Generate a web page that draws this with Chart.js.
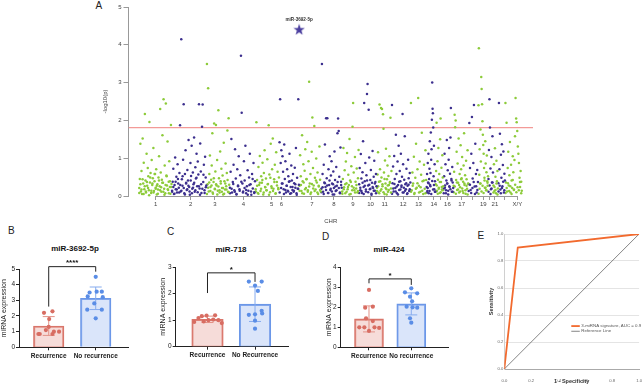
<!DOCTYPE html>
<html>
<head>
<meta charset="utf-8">
<script src="https://cdn.jsdelivr.net/npm/chart.js@4.4.0/dist/chart.umd.min.js"></script>
<style>
body { margin: 0; width: 643px; height: 385px; position: relative; background: #fff; overflow: hidden; }
canvas { position: absolute; }
.lbl { position: absolute; font-family: Arial, "Liberation Sans", sans-serif; color: #222; line-height: 1; white-space: nowrap; }
.ttl { position: absolute; font-family: Arial, "Liberation Sans", sans-serif; font-weight: bold; font-size: 8px; color: #111; transform: translate(-50%, -50%); white-space: nowrap; }
</style>
</head>
<body>

<div class="lbl" style="left:95.5px;top:0.5px;font-size:10px">A</div>
<div class="lbl" style="left:8px;top:226px;font-size:10px">B</div>
<div class="lbl" style="left:167px;top:226.5px;font-size:10px">C</div>
<div class="lbl" style="left:322px;top:231.5px;font-size:10px">D</div>
<div class="lbl" style="left:477.5px;top:231px;font-size:10px">E</div>

<div class="ttl" id="titleB" style="left:75px;top:248px"></div>
<div class="ttl" id="titleC" style="left:231px;top:248.5px"></div>
<div class="ttl" id="titleD" style="left:389px;top:248.5px"></div>

<canvas id="manhattan" width="452" height="232" style="left:88px;top:0px"></canvas>
<canvas id="barB" width="135" height="145" style="left:0px;top:240px"></canvas>
<canvas id="barC" width="135" height="145" style="left:159px;top:240px"></canvas>
<canvas id="barD" width="130" height="145" style="left:325px;top:240px"></canvas>
<canvas id="roc" width="155" height="160" style="left:488px;top:225px"></canvas>

<script>
// ===============================
// Data
// ===============================

// Manhattan plot: chromosomes and -log10(p) per miRNA
const chromNames = ["1","2","3","4","5","6","7","8","9","10","11","12","13","14","15","16","17","18","19","20","21","22","X/Y"];
const chromTickText = ["1","2","3","4","5","6","7","8","9","10","11","12","13","14","","16","17","","19","","21","","X/Y"];
const chromWidth = [33,35,23,26,24,20,22,21,17,18,15,19,16,9,8,10,15,10,10,5,5,7,17];
const chromTick = [16.7,52,76.3,105,133.3,143.3,173.7,196,215,232.7,247,265.5,281,296.3,303,310,324.3,335,346,352,357.7,367,380.3];
const yTicksA = [0,1,2,3,4,5];
const threshold = 1.81;
const topHitName = "miR-3692-5p";
const topHitPos = 161;
const topHitValue = 4.41;

// scattered miRNAs, chromosome by chromosome
const c1 = [0.21,0.45,1.38,0.12,0.66,0.05,1.52,0.33,0.88,0.18,2.17,0.41,0.09,1.12,0.27,0.74,0.52,0.15,1.96,0.36,0.61,0.08,0.95,0.29,0.47,1.27,0.13,0.39,0.58,0.22,0.71,0.04,0.31,0.17,0.49,1.05,0.26,2.30,0.62,0.11,0.43,1.61,0.35,2.56,0.19,0.81,0.07,2.45,0.54,0.28,1.44,0.16,0.38,0.92,0.24,0.06,1.88,0.32];
const c2 = [0.14,0.38,0.72,0.05,0.29,1.02,0.18,0.51,0.09,0.84,0.33,0.22,0.61,1.87,0.12,4.15,0.44,0.27,0.96,2.43,0.07,0.58,1.21,0.35,0.16,0.69,0.41,1.48,0.24,0.03,0.87,0.53,1.33,0.19,0.62,0.31,1.55,0.11,0.76,0.46,1.12,0.26,0.91,0.57,2.43,0.20,1.39,0.65,0.08,1.83,2.42,0.37,0.83,0.15,1.04,0.49,0.28];
const c3 = [3.49,0.31,2.85,0.12,0.58,1.07,0.24,0.43,0.81,1.66,0.06,0.37,1.92,0.19,0.65,1.88,0.28,0.95,0.14,2.27,0.47,0.09,1.18,0.33,0.72,0.21,0.54,0.04,1.41,0.39,0.17,0.86,0.26,0.61,1.73,0.11,2.06,0.30];
const c4 = [0.22,0.64,1.51,0.09,0.37,0.83,0.15,1.24,0.46,0.05,0.71,0.28,1.05,0.18,0.55,3.71,2.20,0.33,0.12,0.92,0.41,1.33,0.07,0.26,0.68,0.14,0.49,1.12,0.31,0.03,0.58,0.20,0.87,0.10,0.39];
const c5 = [0.18,1.95,0.42,0.08,0.77,0.29,1.06,0.13,0.52,0.35,0.88,0.04,0.61,1.21,0.23,0.46,0.15,0.97,0.32,1.87,0.57,0.10,1.38,0.26,0.71,1.52,0.19,0.44,0.83,0.06,1.16,0.37,0.64,0.21,0.49];
const c6 = [1.42,2.56,0.87,1.21,0.33,1.05,0.64,0.18,1.36,0.45,0.92,0.09,0.27,0.71,0.14,0.52,0.38,1.12,0.06,0.24,0.81,0.41,0.16,0.58,0.11,0.34,0.75,0.22,1.27,0.07,0.48,0.19,2.56,0.30];
const c7 = [0.27,1.08,0.52,0.13,1.61,0.39,0.84,0.06,0.67,1.24,0.21,0.45,1.43,0.15,0.92,3.02,0.33,0.58,0.09,1.17,2.08,0.74,0.28,1.85,0.48,0.17,0.99,0.36,0.62,0.05,0.25,1.31,0.43,0.12];
const c8 = [0.19,3.49,0.58,0.11,0.83,0.36,1.36,0.24,2.06,0.47,2.06,0.08,0.71,0.29,1.05,0.16,0.54,0.92,0.33,0.04,0.65,0.21,1.18,0.42,0.13,0.77,0.27,1.66,2.05,1.72,0.51,0.09,1.28,0.38,0.22];
const c9 = [0.12,0.45,1.27,0.23,0.68,0.07,0.91,0.34,1.14,0.18,0.56,0.29,1.51,0.41,0.05,0.79,0.26,1.83,2.46,0.62,0.15,1.03,0.38,0.20,0.73,0.09,0.47,1.22];
const c10 = [0.31,0.74,0.15,1.11,0.46,0.08,0.63,1.45,0.24,2.46,0.39,0.87,0.12,0.55,2.70,2.96,0.28,2.28,1.02,0.18,0.42,0.69,0.06,0.35,1.19,0.21,0.51,0.93,0.14,0.37,0.58,0.26];
const c11 = [0.22,0.57,1.16,0.09,0.38,2.42,0.71,0.14,2.33,0.49,2.30,0.26,2.16,1.78,0.62,0.05,0.94,0.33,1.25,0.18,0.44,0.81,0.11,0.53,0.29,1.05,0.37,2.07,0.20,0.66];
const c12 = [2.41,0.34,0.78,0.12,1.06,0.45,0.21,1.62,0.58,0.07,0.91,0.29,1.33,0.16,0.66,0.39,1.12,0.24,0.51,2.17,0.84,0.09,0.43,1.58,0.31,0.18,0.72,0.05,0.27,0.96,0.47,0.13,0.61,0.36];
const c13 = [2.46,0.15,0.62,0.33,1.04,0.08,0.48,1.38,0.22,0.71,2.59,0.27,0.91,0.11,0.56,1.67,0.39,0.05,0.83,0.19,1.21,0.42];
const c14 = [0.24,0.58,0.13,0.87,0.36,1.12,0.07,0.45,0.72,1.45,0.29,0.61,1.68,0.96,1.24,2.02,3.00,2.31,2.19,1.81,0.52,1.33,0.18,0.84,0.39,0.11];
const c15 = [0.31,0.66,1.94,0.14,0.92,0.43,1.27,0.22,0.58,0.08,1.50,2.05,0.37,0.75,0.17,1.08,0.49,0.26];
const c16 = [0.19,0.52,1.12,0.28,0.84,0.07,0.41,1.48,0.33,0.68,0.14,0.96,1.27,0.24,0.59,1.55,2.33,0.45,0.11,0.77,0.36,0.21];
const c17 = [0.27,0.64,2.15,1.82,2.00,0.42,1.17,0.16,0.86,0.35,1.52,0.09,0.58,0.23,1.34,0.71,0.47,1.03,0.13,0.38,0.81,1.66,0.29,0.55,0.06,0.93,0.44,0.19,1.21,0.33];
const c18 = [0.32,1.93,0.74,0.16,1.12,2.09,0.46,0.87,2.41,0.25,1.38,0.58,0.09,0.69,0.37];
const c19 = [2.40,3.91,0.56,1.24,0.33,1.76,0.91,3.15,2.83,2.43,1.98,1.62,1.35,1.12,0.74,0.48,0.22,1.45,0.86,0.15,0.63,1.07,0.39,0.27,0.52];
const c20 = [0.45,1.22,2.56,1.81,0.73,0.18,1.03,0.36,1.58,0.62];
const c21 = [0.28,0.84,0.13,1.26,0.51,0.07,0.93,0.39,0.66,0.20];
const c22 = [0.34,2.46,0.71,1.65,0.17,1.09,0.48,1.37,0.26,0.82,1.18,0.09,0.59,0.41];
const cXY = [2.46,0.36,1.94,0.12,0.74,1.17,0.28,0.55,1.43,0.09,0.83,0.41,0.21,1.05,0.63,0.16,0.95,1.58,2.59,2.05,1.95,1.72,1.31,1.12,0.87,0.48,0.24,0.66,0.38,0.14];
const chromValues = [c1,c2,c3,c4,c5,c6,c7,c8,c9,c10,c11,c12,c13,c14,c15,c16,c17,c18,c19,c20,c21,c22,cXY];

// the dense low band near the x axis
const b1 = [0.08,0.31,0.17,0.44,0.05,0.26,0.12,0.37,0.21,0.02,0.49,0.14,0.33,0.09,0.58,0.19,0.27,0.06,0.41,0.15,0.23,0.35,0.11,0.03,0.29,0.52,0.18,0.07,0.39,0.24];
const b2 = [0.11,0.24,0.06,0.38,0.17,0.45,0.09,0.29,0.14,0.52,0.21,0.04,0.33,0.18,0.27,0.12,0.41,0.07,0.22,0.35,0.15,0.48,0.10,0.26,0.03,0.31,0.19,0.56,0.08,0.23];
const b3 = [0.05,0.22,0.36,0.13,0.28,0.09,0.47,0.18,0.31,0.04,0.25,0.15,0.39,0.11,0.21,0.06,0.33,0.17,0.42,0.10];
const b4 = [0.07,0.19,0.32,0.11,0.04,0.26,0.14,0.38,0.09,0.21,0.16,0.03,0.29,0.12,0.45,0.08];
const b5 = [0.12,0.27,0.06,0.35,0.19,0.42,0.09,0.24,0.15,0.31,0.03,0.48,0.21,0.13,0.37,0.07,0.28,0.18];
const b6 = [0.09,0.21,0.33,0.05,0.16,0.27,0.12,0.39,0.07,0.24,0.14,0.31,0.03,0.19];
const b7 = [0.14,0.29,0.07,0.36,0.18,0.44,0.11,0.25,0.05,0.32,0.20,0.13,0.41,0.09,0.27,0.16];
const b8 = [0.10,0.23,0.05,0.34,0.16,0.28,0.08,0.41,0.19,0.12,0.31,0.04,0.25,0.15,0.37,0.21,0.07,0.29];
const b9 = [0.06,0.18,0.31,0.11,0.24,0.04,0.37,0.15,0.22,0.09,0.29,0.13];
const b10 = [0.08,0.22,0.13,0.35,0.05,0.27,0.17,0.41,0.10,0.30,0.19,0.03,0.24,0.14,0.33,0.07];
const b11 = [0.13,0.26,0.07,0.39,0.18,0.31,0.10,0.45,0.21,0.04,0.28,0.16,0.35,0.09];
const b12 = [0.06,0.20,0.32,0.12,0.25,0.04,0.38,0.17,0.28,0.09,0.22,0.14,0.34,0.07,0.30,0.18];
const b13 = [0.11,0.27,0.05,0.19,0.34,0.09,0.23,0.14,0.41,0.07];
const b14 = [0.09,0.21,0.34,0.13,0.26,0.05,0.40,0.17,0.29,0.11];
const b15 = [0.12,0.28,0.06,0.19,0.37,0.10,0.24,0.15];
const b16 = [0.07,0.22,0.15,0.33,0.04,0.26,0.18,0.41,0.11];
const b17 = [0.10,0.25,0.06,0.36,0.17,0.29,0.12,0.44,0.20,0.08,0.33,0.15,0.27,0.04];
const b18 = [0.13,0.30,0.08,0.21,0.37,0.05,0.26,0.16];
const b19 = [0.06,0.19,0.33,0.12,0.27,0.08,0.41,0.22,0.15,0.35];
const b20 = [0.11,0.28,0.05,0.20,0.36];
const b21 = [0.09,0.24,0.16,0.33,0.04];
const b22 = [0.12,0.27,0.07,0.21,0.38,0.15];
const bXY = [0.08,0.21,0.34,0.13,0.26,0.05,0.42,0.17,0.30,0.10,0.23,0.15,0.37,0.07];
const chromBulk = [b1,b2,b3,b4,b5,b6,b7,b8,b9,b10,b11,b12,b13,b14,b15,b16,b17,b18,b19,b20,b21,b22,bXY];

// Bar panels: miRNA expression per patient
const groupsB = ["Recurrence", "No recurrence"];
const groupsC = ["Recurrence", "No Recurrence"];
const groupsD = ["Recurrence", "No recurrence"];

const titleB = "miR-3692-5p";
const recB = [2.2,2.3,1.8,1.3,1.1,0.85,1.0,1.0,0.85,0.85];
const noRecB = [4.5,3.55,3.55,3.5,3.25,3.2,2.8,2.4,2.4,1.85];
const meanB = [1.36, 3.13];
const sdB = [0.6, 0.72];
const sigB = "****";
const yTicksB = [0,1,2,3,4,5];

const titleC = "miR-718";
const recC = [0.93,1.08,1.15,1.17,1.0,1.02,1.18,1.0,0.89,0.95];
const noRecC = [2.45,2.45,2.3,1.35,1.2,1.22,1.25,0.98,0.68,2.1];
const meanC = [1.03, 1.6];
const sdC = [0.12, 0.65];
const sigC = "*";
const yTicksC = [0,1,2,3];

const titleD = "miR-424";
const recD = [2.87,2.03,1.98,1.45,1.31,1.0,1.0,1.0,0.97,0.82];
const noRecD = [2.95,2.75,2.7,2.53,2.3,2.03,1.98,2.0,1.45,1.23];
const meanD = [1.42, 2.17];
const sdD = [0.65, 0.55];
const sigD = "*";
const yTicksD = [0,1,2,3,4];

// ROC panel
const rocLabel = "3-miRNA signature, AUC = 0.9";
const rocFpr = [0, 0.1, 1];
const rocTpr = [0, 0.9, 1];
const refLabel = "Reference Line";
const refFpr = [0, 1];
const refTpr = [0, 1];
const rocTicks = [0, 0.2, 0.4, 0.6, 0.8, 1.0];

// ===============================
// Layout / style
// ===============================

const green = "#8dcb3a";
const purple = "#3c2f8e";
const FONT = 'Arial, "Liberation Sans", sans-serif';

// horizontal spread of the dots inside each bar (in category units)
const jitterB = { rec: [-0.10,0.08,0.01,0.0,-0.06,-0.19,0.11,0.22,0.08,-0.22], noRec: [0,0.02,0.13,-0.13,-0.17,0.15,-0.03,-0.18,0.13,0] };
const jitterC = { rec: [-0.28,-0.19,-0.12,-0.02,0.02,0.12,0.16,0.23,0.30,-0.08], noRec: [-0.13,0.14,0,0.14,-0.13,0,0.15,0,0,0.06] };
const jitterD = { rec: [0,0.09,-0.09,-0.07,0.09,-0.23,-0.11,0.13,0.24,0], noRec: [0,-0.15,0.14,-0.03,0.02,-0.11,0.14,0.03,-0.03,0] };

// significance bracket: [top, left leg end, right leg end] in data units
const bracketB = [5.15, 2.6, 4.83];
const bracketC = [2.78, 2.02, 2.44];
const bracketD = [3.42, 3.2, 3.12];

Chart.defaults.font.family = FONT;
Chart.defaults.animation = false;
Chart.defaults.responsive = false;
Chart.defaults.plugins.legend.display = false;
Chart.defaults.plugins.tooltip.enabled = false;

// ===============================
// A: Manhattan plot
// ===============================

function starImage(size, color) {
    const c = document.createElement("canvas");
    c.width = size; c.height = size;
    const g = c.getContext("2d");
    g.fillStyle = color;
    g.beginPath();
    for (let k = 0; k < 10; k++) {
        const r = k % 2 ? size * 0.2 : size * 0.5;
        const a = -Math.PI / 2 + k * Math.PI / 5;
        g.lineTo(size / 2 + r * Math.cos(a), size * 0.55 + r * Math.sin(a));
    }
    g.closePath();
    g.fill();
    return c;
}

const manhattanSets = [];
let start = 0;
chromValues.forEach((vals, k) => {
    const w = chromWidth[k];
    const bulk = chromBulk[k];
    const pts = vals.map((v, i) => ({ x: start + (i + 0.5) / vals.length * w, y: v }))
        .concat(bulk.map((v, i) => ({ x: start + (i + 0.3) / bulk.length * w, y: v })));
    manhattanSets.push({
        type: "scatter",
        data: pts,
        backgroundColor: k % 2 ? purple : green,
        pointRadius: 1.25,
        borderWidth: 0,
        clip: false
    });
    start += w;
});

manhattanSets.push({
    type: "line",
    data: [{ x: -10.5, y: threshold }, { x: 396, y: threshold }],
    borderColor: "#f39a97",
    borderWidth: 1.1,
    pointRadius: 0
});

manhattanSets.push({
    type: "scatter",
    data: [{ x: topHitPos, y: topHitValue }],
    pointStyle: starImage(12, "#4b3f9f"),
    pointRadius: 6
});

const manhattanExtras = {
    id: "manhattanExtras",
    afterDraw(chart) {
        const { ctx, scales: { x, y } } = chart;
        ctx.save();
        ctx.font = "bold 4.6px " + FONT;
        ctx.fillStyle = "#333";
        ctx.textAlign = "center";
        ctx.textBaseline = "middle";
        ctx.fillText(topHitName, x.getPixelForValue(topHitPos), y.getPixelForValue(topHitValue) - 9.5);
        ctx.strokeStyle = "#999";
        ctx.lineWidth = 1;
        ctx.beginPath();
        const yb = y.getPixelForValue(0) + 0.5;
        ctx.moveTo(x.getPixelForValue(chromTick[0]), yb);
        ctx.lineTo(x.getPixelForValue(chromTick[chromTick.length - 1]), yb);
        ctx.stroke();
        ctx.restore();
    }
};

new Chart(document.getElementById("manhattan"), {
    type: "scatter",
    data: { datasets: manhattanSets },
    options: {
        layout: { padding: { top: 4, right: 5, left: 0, bottom: 0 } },
        scales: {
            x: {
                type: "linear",
                min: -10.5,
                max: 396,
                afterFit: s => { s.height = 36; },
                afterBuildTicks: s => { s.ticks = chromTick.map(v => ({ value: v })); },
                ticks: {
                    autoSkip: false, maxRotation: 0, minRotation: 0,
                    padding: 1,
                    font: { size: 6 }, color: "#444",
                    callback: (v, i) => chromTickText[i]
                },
                grid: { drawOnChartArea: false, tickLength: 4, color: "#999" },
                border: { display: false },
                title: { display: true, text: "CHR", font: { size: 6 }, color: "#444", padding: { top: 0, bottom: 7.4 } }
            },
            y: {
                min: 0,
                max: 5,
                afterFit: s => { s.width = 40.5; },
                afterBuildTicks: s => { s.ticks = yTicksA.map(v => ({ value: v })); },
                ticks: { font: { size: 6 }, color: "#444", padding: 2 },
                grid: { drawOnChartArea: false, tickLength: 5, color: "#999" },
                border: { color: "#999" },
                title: { display: true, text: "-log10(p)", font: { size: 6 }, color: "#444", padding: { top: 13.4, bottom: 0 } }
            }
        }
    },
    plugins: [manhattanExtras]
});

// ===============================
// B, C, D: bar + dot plots
// ===============================

const recFill = "rgba(236,178,170,0.45)";
const recLine = "#d9756a";
const recDot = "#d86d62";
const noRecFill = "rgba(172,198,244,0.45)";
const noRecLine = "#6b97e8";
const noRecDot = "#5a8de6";

function statPlugin(means, sds, bracket, sig) {
    return {
        id: "stat",
        afterDatasetDraw(chart, args) {
            if (args.index !== 0) return;
            const { ctx, scales: { x, y } } = chart;
            ctx.save();
            ctx.lineWidth = 1;
            means.forEach((m, g) => {
                const px = x.getPixelForValue(g);
                const top = y.getPixelForValue(m + sds[g]);
                const bot = y.getPixelForValue(m - sds[g]);
                ctx.strokeStyle = g === 0 ? "#e39287" : "#86abee";
                ctx.beginPath();
                ctx.moveTo(px, top); ctx.lineTo(px, bot);
                ctx.moveTo(px - 6, top); ctx.lineTo(px + 6, top);
                ctx.moveTo(px - 6, bot); ctx.lineTo(px + 6, bot);
                ctx.stroke();
            });
            ctx.restore();
        },
        afterDraw(chart) {
            const { ctx, scales: { x, y } } = chart;
            const x0 = x.getPixelForValue(0), x1 = x.getPixelForValue(1);
            const yt = y.getPixelForValue(bracket[0]);
            ctx.save();
            ctx.strokeStyle = "#222";
            ctx.lineWidth = 1;
            ctx.beginPath();
            ctx.moveTo(x0, y.getPixelForValue(bracket[1]));
            ctx.lineTo(x0, yt);
            ctx.lineTo(x1, yt);
            ctx.lineTo(x1, y.getPixelForValue(bracket[2]));
            ctx.stroke();
            ctx.fillStyle = "#111";
            ctx.font = "bold 8px " + FONT;
            ctx.textAlign = "center";
            ctx.textBaseline = "middle";
            ctx.fillText(sig, (x0 + x1) / 2, yt - 3.5);
            ctx.restore();
        }
    };
}

function barPanel(id, cfg) {
    new Chart(document.getElementById(id), {
        data: {
            datasets: [
                {
                    type: "bar",
                    data: cfg.means.map((m, g) => ({ x: g, y: m })),
                    backgroundColor: [recFill, noRecFill],
                    borderColor: [recLine, noRecLine],
                    borderWidth: 1.4,
                    barThickness: cfg.barWidth,
                    order: 2
                },
                {
                    type: "scatter",
                    data: cfg.rec.map((v, i) => ({ x: cfg.jitter.rec[i], y: v })),
                    backgroundColor: recDot,
                    pointRadius: 2.1,
                    borderWidth: 0,
                    order: 1
                },
                {
                    type: "scatter",
                    data: cfg.noRec.map((v, i) => ({ x: 1 + cfg.jitter.noRec[i], y: v })),
                    backgroundColor: noRecDot,
                    pointRadius: 2.1,
                    borderWidth: 0,
                    order: 1
                }
            ]
        },
        options: {
            layout: { padding: { top: cfg.padTop, right: cfg.padRight, left: 0, bottom: 0 } },
            scales: {
                x: {
                    type: "linear",
                    min: cfg.xMin,
                    max: cfg.xMax,
                    offset: false,
                    afterFit: s => { s.height = cfg.xHeight; },
                    afterBuildTicks: s => { s.ticks = [{ value: 0 }, { value: 1 }]; },
                    ticks: {
                        autoSkip: false, maxRotation: 0, minRotation: 0, padding: 2,
                        font: { size: 6.5, weight: "600" }, color: "#222",
                        callback: (v, i) => cfg.groups[i]
                    },
                    grid: { drawOnChartArea: false, tickLength: 3, color: "#222", offset: false },
                    border: { color: "#222", width: 1 }
                },
                y: {
                    min: 0,
                    max: cfg.yTicks[cfg.yTicks.length - 1],
                    afterFit: s => { s.width = cfg.yWidth; },
                    afterBuildTicks: s => { s.ticks = cfg.yTicks.map(v => ({ value: v })); },
                    ticks: { font: { size: 6.5 }, color: "#222", padding: 1 },
                    grid: { drawOnChartArea: false, tickLength: 3, color: "#222" },
                    border: { color: "#222", width: 1 },
                    title: { display: true, text: "miRNA expression", font: { size: 7 }, color: "#222", padding: { top: 0, bottom: 0 } }
                }
            }
        },
        plugins: [statPlugin(cfg.means, cfg.sds, cfg.bracket, cfg.sig)]
    });
}

document.getElementById("titleB").textContent = titleB;
document.getElementById("titleC").textContent = titleC;
document.getElementById("titleD").textContent = titleD;

barPanel("barB", {
    groups: groupsB, rec: recB, noRec: noRecB, means: meanB, sds: sdB, sig: sigB, yTicks: yTicksB,
    jitter: jitterB, bracket: bracketB,
    xMin: -0.632, xMax: 1.687, barWidth: 30.5,
    padTop: 29, padRight: 7, yWidth: 19, xHeight: 37.7
});

barPanel("barC", {
    groups: groupsC, rec: recC, noRec: noRecC, means: meanC, sds: sdC, sig: sigC, yTicks: yTicksC,
    jitter: jitterC, bracket: bracketC,
    xMin: -0.669, xMax: 1.70, barWidth: 31.5,
    padTop: 27, padRight: 5.7, yWidth: 16.7, xHeight: 38.3
});

barPanel("barD", {
    groups: groupsD, rec: recD, noRec: noRecD, means: meanD, sds: sdD, sig: sigD, yTicks: yTicksD,
    jitter: jitterD, bracket: bracketD,
    xMin: -0.669, xMax: 1.875, barWidth: 29,
    padTop: 27.3, padRight: 6.7, yWidth: 15.7, xHeight: 37.7
});

// ===============================
// E: ROC curve
// ===============================

const rocLegend = {
    id: "rocLegend",
    afterDraw(chart) {
        const { ctx, scales: { x, y } } = chart;
        const lx = x.getPixelForValue(0.497);
        let ly = y.getPixelForValue(0.318);
        ctx.save();
        ctx.font = "4.4px " + FONT;
        ctx.textBaseline = "middle";
        chart.data.datasets.forEach(ds => {
            ctx.strokeStyle = ds.borderColor;
            ctx.lineWidth = ds.borderWidth;
            ctx.beginPath();
            ctx.moveTo(lx, ly); ctx.lineTo(lx + 8.5, ly);
            ctx.stroke();
            ctx.fillStyle = "#555";
            ctx.fillText(ds.label, lx + 10, ly);
            ly += 5.2;
        });
        ctx.restore();
    }
};

new Chart(document.getElementById("roc"), {
    type: "line",
    data: {
        datasets: [
            {
                label: rocLabel,
                data: rocFpr.map((v, i) => ({ x: v, y: rocTpr[i] })),
                borderColor: "#f26a2e",
                borderWidth: 1.8,
                pointRadius: 0
            },
            {
                label: refLabel,
                data: refFpr.map((v, i) => ({ x: v, y: refTpr[i] })),
                borderColor: "#666",
                borderWidth: 0.8,
                pointRadius: 0
            }
        ]
    },
    options: {
        layout: { padding: { top: 9, right: 3, left: 0, bottom: 0 } },
        scales: {
            x: {
                type: "linear",
                min: 0, max: 1,
                afterFit: s => { s.height = 16; },
                afterBuildTicks: s => { s.ticks = rocTicks.map(v => ({ value: v })); },
                ticks: { font: { size: 4.2 }, color: "#666", padding: 1, maxRotation: 0, callback: v => v.toFixed(1) },
                grid: { display: false },
                border: { color: "#aaa" },
                title: { display: true, text: "1 - Specificity", font: { size: 5.5, weight: "bold" }, color: "#333", padding: { top: 0, bottom: 0 } }
            },
            y: {
                min: 0, max: 1,
                afterFit: s => { s.width = 16.3; },
                afterBuildTicks: s => { s.ticks = rocTicks.map(v => ({ value: v })); },
                ticks: { font: { size: 4.2 }, color: "#666", padding: 1, callback: v => v.toFixed(1) },
                grid: { color: "#e4e4e4", drawTicks: false },
                border: { color: "#d0d0d0" },
                title: { display: true, text: "Sensitivity", font: { size: 5.5, weight: "bold" }, color: "#333", padding: { top: 0, bottom: 0 } }
            }
        }
    },
    plugins: [rocLegend]
});
</script>
</body>
</html>
